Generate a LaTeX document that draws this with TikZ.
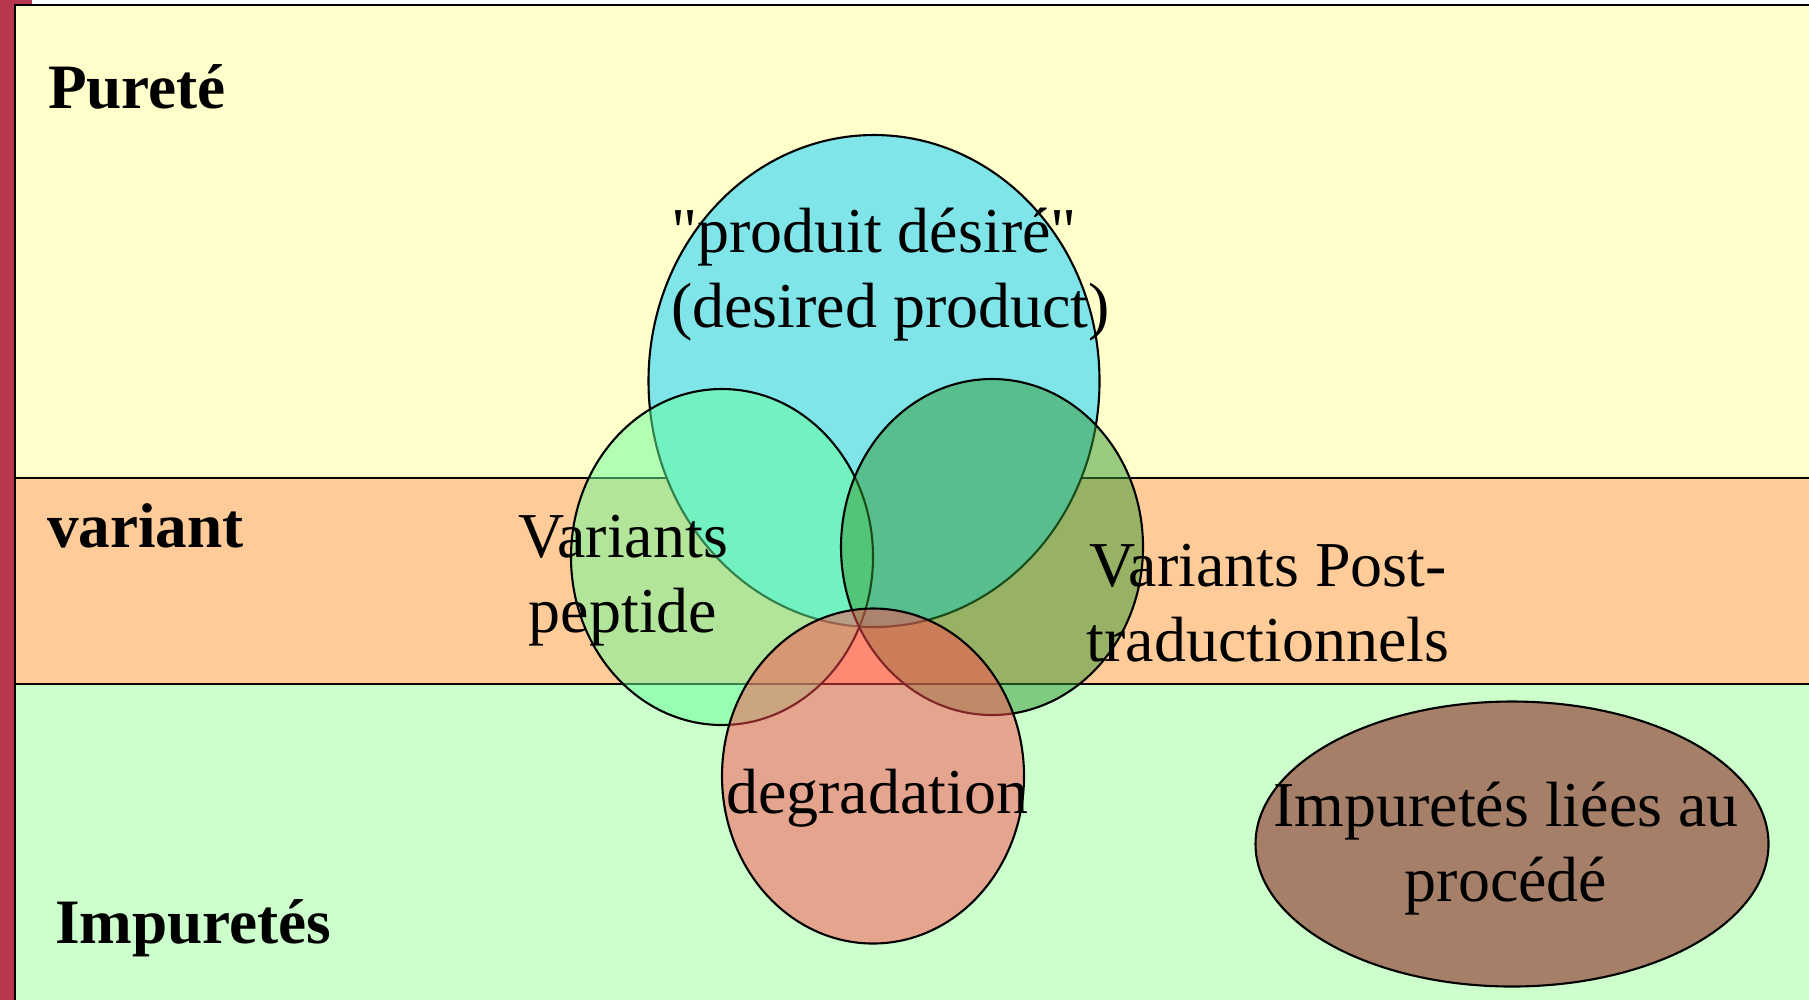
\documentclass[tikz,border=0pt]{standalone}
\usepackage{fontspec}
\setmainfont{Liberation Serif}
\usetikzlibrary{shapes.geometric}
\definecolor{pred}{HTML}{B83850}
\definecolor{pyellow}{HTML}{FFFFCC}
\definecolor{porange}{HTML}{FFCC99}
\definecolor{pgreen}{HTML}{CCFFCC}
\definecolor{pcyan}{HTML}{7FE5E8}
\definecolor{plight}{HTML}{66FF99}
\definecolor{pdark}{HTML}{339933}
\definecolor{psalmon}{HTML}{FF4A50}
\definecolor{pbrown}{HTML}{A67F68}

\begin{document}
\begin{tikzpicture}[x=0.1mm, y=-0.1mm, line width=0.6pt,
  font=\fontsize{18.2}{21.3}\selectfont,
  blob/.style={ellipse, draw, inner sep=0pt, fill opacity=0.5},
  word/.style={anchor=base, align=center, inner sep=0pt},
  head/.style={anchor=base west, inner sep=0pt, font=\fontsize{18}{21.3}\selectfont\bfseries}]
\useasboundingbox (0,0) rectangle (1809,1000);
% ---------- frame and bands ----------
\fill[white] (0,0) rectangle (1809,1000);
\fill[pred] (0,0) rectangle (15,1000);
\fill[pred] (0,0) rectangle (32,5);
\fill[pyellow] (15,5) rectangle (1809,478);
\fill[porange] (15,478) rectangle (1809,684);
\fill[pgreen] (15,684) rectangle (1809,1000);
\draw (1809,5) -- (15,5) -- (15,1000);
\draw (15,478) -- (1809,478);
\draw (15,684) -- (1809,684);
% ---------- overlapping sets ----------
\node[blob, fill=pcyan, fill opacity=1, minimum width=45.1mm, minimum height=49.2mm] (desired) at (874,381) {};
\node[blob, fill=plight, minimum width=30.2mm, minimum height=33.6mm] (peptide) at (722,557) {};
\node[blob, fill=pdark, minimum width=30.2mm, minimum height=33.6mm] (post) at (992,547) {};
\node[blob, fill=psalmon, minimum width=30.2mm, minimum height=33.5mm] (degr) at (873,776) {};
\node[blob, fill=pbrown, fill opacity=1, minimum width=51.3mm, minimum height=28.5mm] (process) at (1512,844) {};
% ---------- band names ----------
\node[head] (purete) at (47,108) {Pureté};
\node[head] (variant) at (46,547) {variant};
\node[head] (impuretes) at (54,943) {Impuretés};
% ---------- set names (base = last line) ----------
\node[word, anchor=base west, align=left] (desiredtxt) at (670,327)
   {\textquotedbl produit désiré\textquotedbl\\(desired product)};
\node[word] (peptidetxt) at (623,632) {Variants\\peptide};
\node[word] (posttxt) at (1268,661) {Variants Post-\\traductionnels};
\node[word] (degrtxt) at (877,813) {degradation};
\node[word] (processtxt) at (1506,901) {Impuretés liées au\\procédé};
\end{tikzpicture}
\end{document}
